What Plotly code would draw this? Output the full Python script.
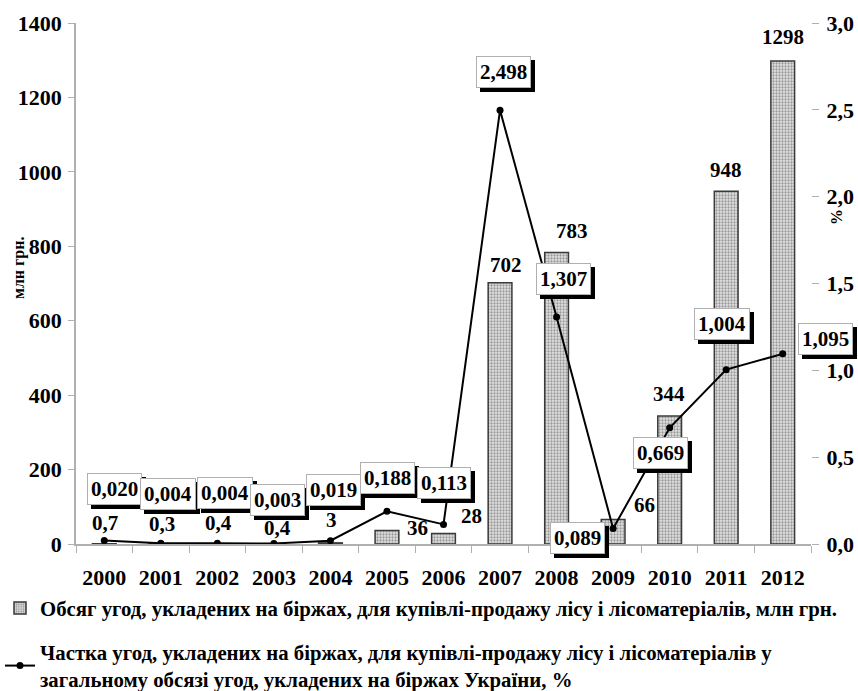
import plotly.graph_objects as go

years = ["2000", "2001", "2002", "2003", "2004", "2005", "2006",
         "2007", "2008", "2009", "2010", "2011", "2012"]
volume = [0.7, 0.3, 0.4, 0.4, 3, 36, 28, 702, 783, 66, 344, 948, 1298]
share = [0.020, 0.004, 0.004, 0.003, 0.019, 0.188, 0.113,
         2.498, 1.307, 0.089, 0.669, 1.004, 1.095]

left_ticks = [0, 200, 400, 600, 800, 1000, 1200, 1400]
right_ticks = [0.0, 0.5, 1.0, 1.5, 2.0, 2.5, 3.0]

bar_name = "Обсяг угод, укладених на біржах, для купівлі-продажу лісу і лісоматеріалів, млн грн."
line_name = ("Частка угод, укладених на біржах, для купівлі-продажу лісу і лісоматеріалів у<br>"
             "загальному обсязі угод, укладених на біржах України, %")

# label offsets (pixels) - layout only
bar_lab_dx = [1, 1, 1, 4, 1, 31, 28, 6, 15, 31, -1, 0, 0]
bar_lab_dy = [21, 20, 21, 16, 23, 3, 18, 18, 22, 14, 22, 21, 24]
box_dx = [10, 7, 8, 4, 3, 1, 0, 3, 7, -36, -9, -4, 43]
box_dy = [52, 49, 50, 43, 51, 33, 41, 38, 38, -9, -25, 46, 15]

FONT = "Liberation Serif"
W, H = 858, 691
L, T = 76, 23
R = W - 811
B = H - 544
PW, PH = W - L - R, H - T - B


def px_to_paper(px, py):
    return (px - L) / PW, (H - B - py) / PH


def fmt_num(v):
    if float(v).is_integer():
        return str(int(v))
    return str(v).replace(".", ",")


fig = go.Figure()
fig.add_trace(go.Bar(
    x=years, y=volume, name=bar_name, width=0.42, legendgroup="bars",
    marker=dict(color="#d8d8d8",
                line=dict(color="#3a3a3a", width=1.5),
                pattern=dict(shape=".", fgcolor="#505050", bgcolor="#e2e2e2",
                             size=3, solidity=0.45)),
))
fig.add_trace(go.Scatter(
    x=years, y=share, name=line_name, yaxis="y2", mode="lines+markers",
    legendgroup="line",
    line=dict(color="black", width=2),
    marker=dict(color="black", size=7),
))

annotations = []
for i, v in enumerate(volume):
    annotations.append(dict(
        x=i, y=v, xref="x", yref="y", text=fmt_num(v), showarrow=False,
        xshift=bar_lab_dx[i], yshift=bar_lab_dy[i],
        font=dict(family=FONT, size=21, color="black", weight="bold")))

for i, v in enumerate(share):
    txt = f"{v:.3f}".replace(".", ",")
    # shadow
    annotations.append(dict(
        x=i, y=v, xref="x", yref="y2", text=txt, showarrow=False,
        xshift=box_dx[i] + 4, yshift=box_dy[i] - 4,
        bgcolor="black", bordercolor="black", borderwidth=1, borderpad=3,
        font=dict(family=FONT, size=21, color="black", weight="bold")))
    annotations.append(dict(
        x=i, y=v, xref="x", yref="y2", text=txt, showarrow=False,
        xshift=box_dx[i], yshift=box_dy[i],
        bgcolor="white", bordercolor="#b0b0b0", borderwidth=1, borderpad=3,
        font=dict(family=FONT, size=21, color="black", weight="bold")))

ax_l, ay_l = px_to_paper(19, 268)
annotations.append(dict(
    x=ax_l, y=ay_l, xref="paper", yref="paper", text="млн грн.",
    textangle=-90, showarrow=False, xanchor="center", yanchor="middle",
    font=dict(family=FONT, size=16, color="black", weight="bold")))
ax_r, ay_r = px_to_paper(836, 217)
annotations.append(dict(
    x=ax_r, y=ay_r, xref="paper", yref="paper", text="%",
    textangle=-90, showarrow=False, xanchor="center", yanchor="middle",
    font=dict(family=FONT, size=16, color="black", weight="bold")))

tick_font = dict(family=FONT, size=22, color="black", weight="bold")

fig.update_layout(
    width=W, height=H,
    margin=dict(l=L, r=R, t=T, b=B, autoexpand=False),
    paper_bgcolor="white", plot_bgcolor="white",
    showlegend=True,
    legend=dict(x=0, y=1 - 588 / H, xref="container", yref="container",
                xanchor="left", yanchor="top",
                font=dict(family=FONT, size=20.8, color="black", weight="bold"),
                tracegroupgap=14, itemwidth=30, bgcolor="rgba(0,0,0,0)"),
    xaxis=dict(type="category", categoryorder="array", categoryarray=years,
               range=[-0.5, len(years) - 0.5], autorange=False,
               automargin=False,
               tickson="boundaries", ticks="outside",
               ticklen=7, tickcolor="#b0b0b0", showline=True,
               linecolor="#b0b0b0", linewidth=1.5, showgrid=False,
               tickfont=tick_font, ticklabelstandoff=13, tickangle=0),
    yaxis=dict(range=[0, 1400], autorange=False, automargin=False,
               tickvals=left_ticks,
               ticktext=[str(t) for t in left_ticks],
               ticks="outside", ticklen=6, tickcolor="#b0b0b0",
               showline=True, linecolor="#b0b0b0", linewidth=1.5,
               showgrid=False, zeroline=False, tickfont=tick_font,
               ticklabelstandoff=2),
    yaxis2=dict(range=[0, 3], autorange=False, automargin=False,
                overlaying="y", side="right",
                tickvals=right_ticks,
                ticktext=[f"{t:.1f}".replace(".", ",") for t in right_ticks],
                ticks="outside", ticklen=7, tickcolor="#b0b0b0",
                showline=False, showgrid=False, zeroline=False,
                tickfont=tick_font, ticklabelstandoff=3),
    annotations=annotations,
)

fig.write_html(
    "out.html",
    config={"displayModeBar": False},
    post_script="document.body.style.margin='0px';"
                "document.body.style.overflow='hidden';",
)
